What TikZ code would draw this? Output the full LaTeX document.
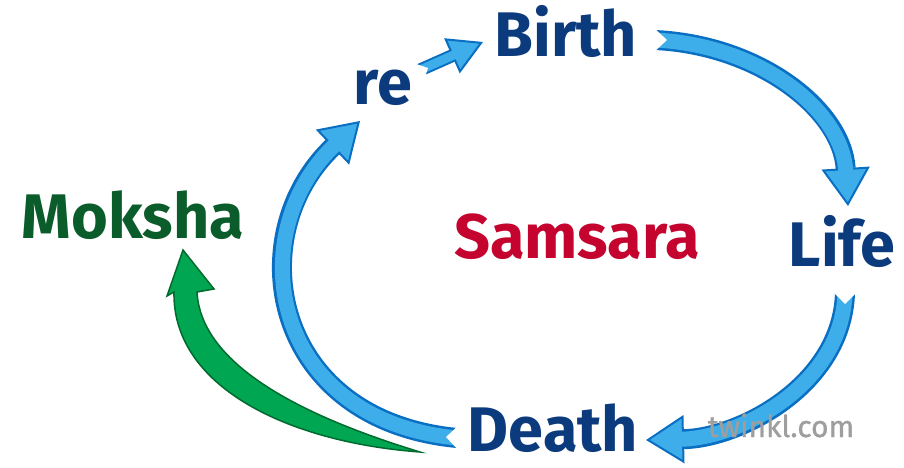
\documentclass[tikz,border=0pt]{standalone}
\usepackage{fontspec}
\setmainfont{Fira Sans}
\usetikzlibrary{arrows.meta}
\definecolor{bdark}{HTML}{0A6FC2}
\definecolor{blight}{HTML}{3DAEE9}
\definecolor{gdark}{HTML}{006B2F}
\definecolor{glight}{HTML}{00A651}
\definecolor{navy}{HTML}{0B3B7C}
\definecolor{mgreen}{HTML}{0A5C2A}
\definecolor{sred}{HTML}{C4042E}
\tikzset{
  word/.style={anchor=base, inner sep=0pt, font=\bfseries\fontsize{63}{63}\selectfont},
  bout/.style={draw=bdark, line width=20pt, -{Triangle[length=38pt, width=48pt, fill=blight, line width=2pt]}},
  bin/.style={draw=blight, line width=15pt, shorten >=35pt},
  sout/.style={draw=bdark, line width=13pt, -{Triangle[length=34pt, width=38pt, fill=blight, line width=2pt]}},
  sin/.style={draw=blight, line width=9pt, shorten >=31pt},
  notch/.style={fill=white, draw=none},
}
\begin{document}
\begin{tikzpicture}[x=1pt, y=-1pt]
\useasboundingbox (0,0) rectangle (904,468);
% words
\node[word, text=navy] (birth) at (566,57) {Birth};
\node[word, text=navy] (re) at (383,105) {re};
\node[word, text=navy] (life) at (842,266) {Life};
\node[word, text=navy] (death) at (553,451) {Death};
\node[word, text=mgreen] (moksha) at (133,238) {Moksha};
\node[word, text=sred] (samsara) at (577,258) {Samsara};
% arrow end points
\coordinate (a1s) at (420,70);
\coordinate (a1e) at (483,42);
\coordinate (a2s) at (655,40);
\coordinate (a2e) at (848,206);
\coordinate (a3s) at (845,293);
\coordinate (a3e) at (646,440);
\coordinate (a4s) at (457,438);
\coordinate (a4e) at (360,121);
\coordinate (gs) at (420,452);
\coordinate (ge) at (183,250);
% re -> Birth
\draw[sout] (a1s) -- (a1e);
\draw[sin] (a1s) -- (a1e);
% Birth -> Life
\draw[bout] (a2s) .. controls (760,45) and (842,110) .. (a2e);
\draw[bin] (a2s) .. controls (760,45) and (842,110) .. (a2e);
% Life -> Death
\draw[bout] (a3s) .. controls (842,385) and (740,438) .. (a3e);
\draw[bin] (a3s) .. controls (842,385) and (740,438) .. (a3e);
% Death -> re
\draw[bout] (a4s) .. controls (270,420) and (240,235) .. (a4e);
\draw[bin] (a4s) .. controls (270,420) and (240,235) .. (a4e);
% tail notches
\fill[notch] (653,27) -- (653,53) -- (667,40) -- cycle;
\fill[notch] (832,291) -- (858,291) -- (845,304) -- cycle;
\fill[notch] (459,425) -- (459,451) -- (446,437) -- cycle;
\fill[notch] (410,62) -- (424,80) -- (428,68) -- cycle;
% green arrow to Moksha
\filldraw[draw=gdark, fill=glight, line width=1.5pt]
  (gs) .. controls (285,442) and (172,385) .. (174,292)
  -- (167,296) -- (ge) -- (214,289) -- (197,292)
  .. controls (201,366) and (305,417) .. (gs) -- cycle;
% watermark
\node[anchor=base, inner sep=0pt, text=black!38, font=\fontsize{30}{30}\selectfont\addfontfeature{FakeBold=1}] (twinkl) at (781,437) {twinkl.com};
\end{tikzpicture}
\end{document}
